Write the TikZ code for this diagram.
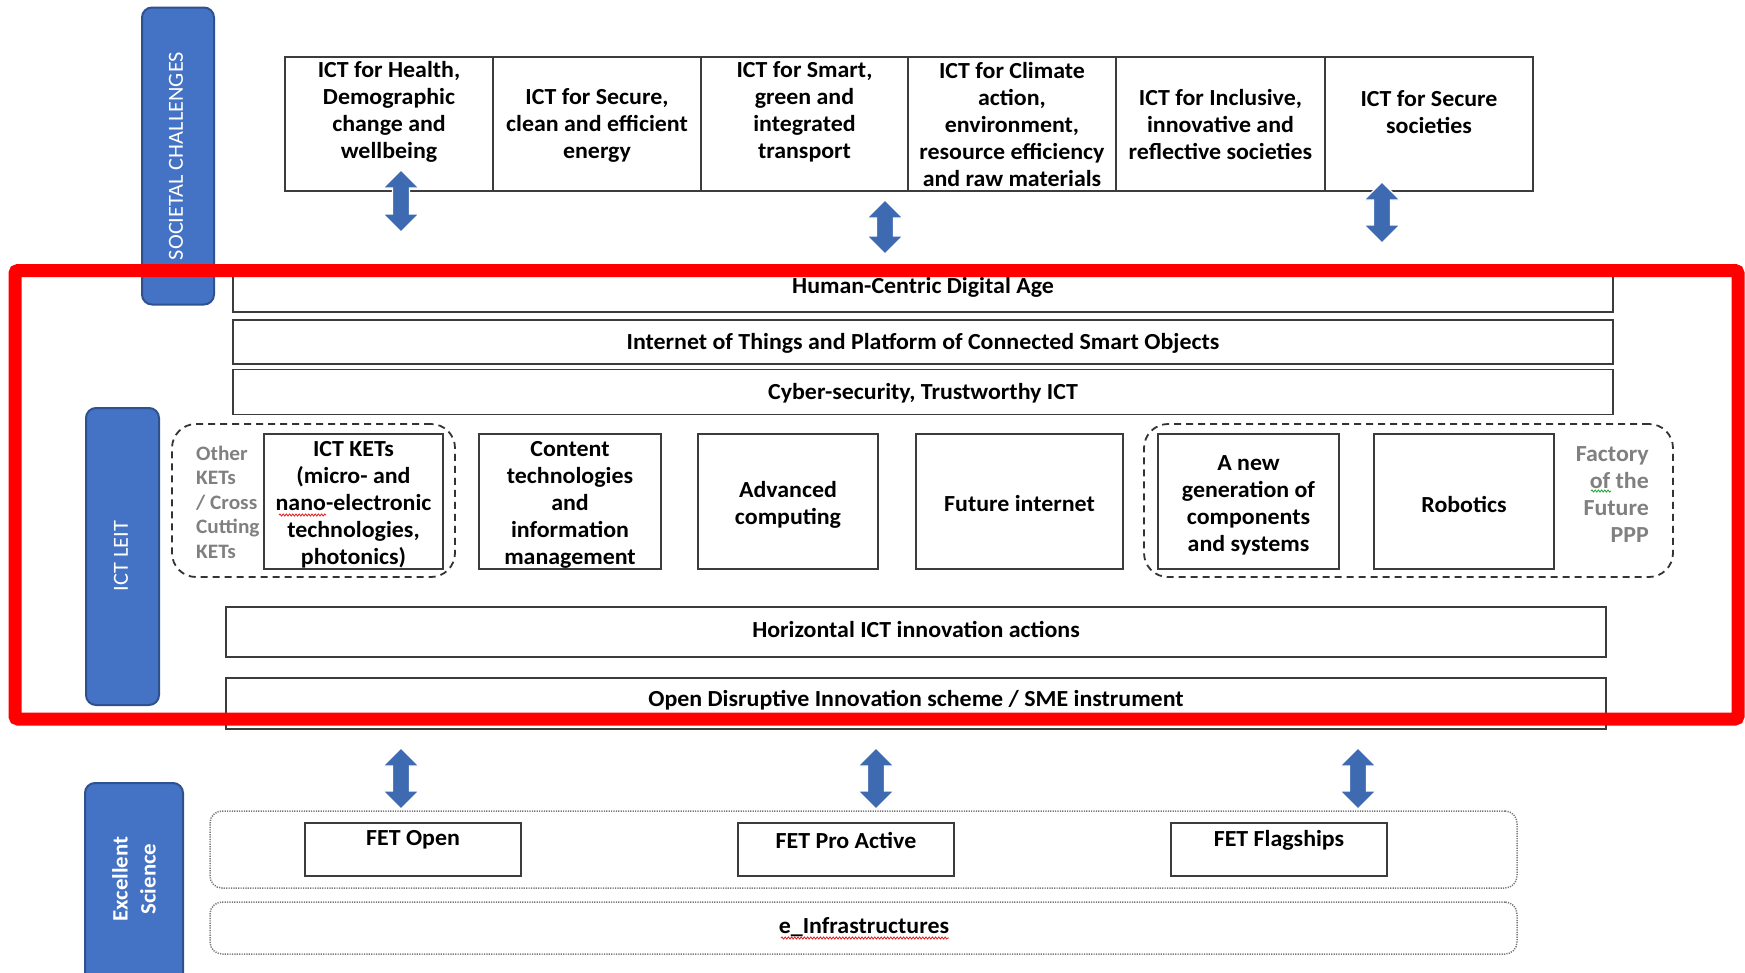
\documentclass[tikz,border=0pt]{standalone}
\usepackage{fontspec}
\setmainfont{Carlito}[FakeStretch=1.04]
\usetikzlibrary{decorations.pathmorphing}
\definecolor{boxline}{RGB}{60,60,60}
\definecolor{bluefill}{RGB}{68,114,196}
\definecolor{blueline}{RGB}{47,82,143}
\definecolor{arrowblue}{RGB}{62,106,178}
\definecolor{graytext}{RGB}{128,128,128}
\definecolor{dotgray}{RGB}{120,120,120}
\definecolor{redframe}{RGB}{255,0,0}
\definecolor{spellred}{RGB}{230,40,40}
\definecolor{spellgreen}{RGB}{40,170,60}
\newcommand{\mainfs}{\fontsize{23}{27}\selectfont\bfseries}
\newcommand{\smallfs}{\fontsize{20.5}{24.5}\selectfont\bfseries}
\newcommand{\bluefs}{\fontsize{21.5}{27}\selectfont}
\newcommand{\blkarrow}[4]{%
  \coordinate (#1) at (#2,{(#3+#4)/2});
  \fill[arrowblue, draw=white, line width=1.2]
    (#2,#3) -- ({#2+18},{#3+18}) -- ({#2+8.5},{#3+18}) -- ({#2+8.5},{#4-18})
    -- ({#2+18},{#4-18}) -- (#2,#4) -- ({#2-18},{#4-18}) -- ({#2-8.5},{#4-18})
    -- ({#2-8.5},{#3+18}) -- ({#2-18},{#3+18}) -- cycle;}
\tikzset{
  box/.style={draw=boxline, line width=1.6, inner sep=0, fill=white},
  txt/.style={font=\mainfs, align=center, inner sep=0, text=black},
  bluebox/.style={fill=bluefill, draw=blueline, line width=2, rounded corners=10, inner sep=0},
  bluetxt/.style={font=\bluefs, text=white, align=center, inner sep=0, rotate=90},
  grp/.style={draw=black!80, dash pattern=on 7 off 5, line width=1.8, rounded corners=24, inner sep=0},
  dotbox/.style={draw=dotgray, dash pattern=on 1.2 off 1.2, line width=1.5, rounded corners=12, inner sep=0},
  graytxt/.style={font=\smallfs, text=graytext, inner sep=0},
  squiggle/.style={line width=0.9, decorate, decoration={snake, amplitude=1, segment length=3.2}},
}
\begin{document}
\begin{tikzpicture}[x=1pt,y=-1pt]
\useasboundingbox (0,0) rectangle (1745,972);
\clip (0,0) rectangle (1745,972);
\fill[white] (0,0) rectangle (1745,972);

% blue side labels
\node[bluebox, minimum width=72, minimum height=297] (soc) at (178,156) {};
\node[bluetxt] (soct) at (176,156) {SOCIETAL CHALLENGES};
\node[bluebox, minimum width=73, minimum height=297] (leit) at (122.5,556.5) {};
\node[bluetxt] (leitt) at (121,556) {ICT LEIT};
\node[bluebox, minimum width=98, minimum height=220] (exc) at (134,893) {};
\node[bluetxt, font=\fontsize{22}{28}\selectfont\bfseries] (exct) at (134,879) {Excellent\\Science};

% societal challenges row
\node[box, minimum width=208, minimum height=134] (c1) at (389,124) {};
\node[box, minimum width=208, minimum height=134] (c2) at (597,124) {};
\node[box, minimum width=207, minimum height=134] (c3) at (804.5,124) {};
\node[box, minimum width=208, minimum height=134] (c4) at (1012,124) {};
\node[box, minimum width=209, minimum height=134] (c5) at (1220.5,124) {};
\node[box, minimum width=208, minimum height=134] (c6) at (1429,124) {};
\node[txt] (c1t) at (389,112) {ICT for Health,\\Demographic\\change and\\wellbeing};
\node[txt] (c2t) at (597,125) {ICT for Secure,\\clean and efficient\\energy};
\node[txt] (c3t) at (804.5,112) {ICT for Smart,\\green and\\integrated\\transport};
\node[txt] (c4t) at (1012,125) {ICT for Climate\\action,\\environment,\\resource efficiency\\and raw materials};
\node[txt] (c5t) at (1220.5,125) {ICT for Inclusive,\\innovative and\\reflective societies};
\node[txt] (c6t) at (1429,112) {ICT for Secure\\societies};

% horizontal lanes
\node[box, minimum width=1380, minimum height=44] (hc) at (923,290) {};
\node[txt] (hct) at (923,287) {Human-Centric Digital Age};
\node[box, minimum width=1380, minimum height=44] (iot) at (923,342) {};
\node[txt] (iott) at (923,343) {Internet of Things and Platform of Connected Smart Objects};
\node[box, minimum width=1380, minimum height=45] (cyb) at (923,392) {};
\node[txt] (cybt) at (923,393) {Cyber-security, Trustworthy ICT};

% dashed groups
\node[grp, minimum width=283, minimum height=153] (g1) at (313.5,500.5) {};
\node[grp, minimum width=529, minimum height=153] (g2) at (1408.5,500.5) {};

% middle boxes
\node[box, minimum width=179, minimum height=135] (kets) at (353.5,501.5) {};
\node[txt] (ketst) at (353.5,505) {ICT KETs\\(micro- and\\nano-electronic\\technologies,\\photonics)};
\node[box, minimum width=182, minimum height=135] (cont) at (570,501.5) {};
\node[txt] (contt) at (570,505) {Content\\technologies\\and\\information\\management};
\node[box, minimum width=180, minimum height=135] (adv) at (788,501.5) {};
\node[txt] (advt) at (788,505) {Advanced\\computing};
\node[box, minimum width=207, minimum height=135] (fut) at (1019.5,501.5) {};
\node[txt] (futt) at (1019.5,504) {Future internet};
\node[box, minimum width=181, minimum height=135] (gen) at (1248.5,501.5) {};
\node[txt] (gent) at (1248.5,505) {A new\\generation of\\components\\and systems};
\node[box, minimum width=180, minimum height=135] (rob) at (1464,501.5) {};
\node[txt] (robt) at (1464,504) {Robotics};
\node[graytxt, align=left, anchor=west] (other) at (196,502) {Other\\KETs\\/ Cross\\Cutting\\KETs};
\node[graytxt, font=\mainfs, align=right, anchor=east] (fof) at (1649,495) {Factory\\of the\\Future\\PPP};

% lower lanes
\node[box, minimum width=1380, minimum height=50] (hor) at (916,632) {};
\node[txt] (hort) at (916,629) {Horizontal ICT innovation actions};
\node[box, minimum width=1380, minimum height=51] (odi) at (916,703.5) {};
\node[txt] (odit) at (916,700) {Open Disruptive Innovation scheme / SME instrument};

% excellent science
\node[dotbox, minimum width=1307, minimum height=77] (fet) at (863.5,849.5) {};
\node[dotbox, minimum width=1307, minimum height=52] (einf) at (863.5,928) {};
\node[box, minimum width=216, minimum height=53] (feto) at (413,849.5) {};
\node[txt] (fetot) at (413,840) {FET Open};
\node[box, minimum width=216, minimum height=53] (fetp) at (846,849.5) {};
\node[txt] (fetpt) at (846,840) {FET Pro Active};
\node[box, minimum width=216, minimum height=53] (fetf) at (1279,849.5) {};
\node[txt] (fetft) at (1279,840) {FET Flagships};
\node[txt] (einft) at (864,927) {e\_Infrastructures};

% spell-check marks
\draw[spellred, squiggle] (279,515) -- (326,515);
\draw[spellgreen, squiggle] (1591,491) -- (1611,491);
\draw[spellred, squiggle] (781,938) -- (949,938);

% block arrows
\blkarrow{a1}{401}{170}{232}
\blkarrow{a2}{885}{200}{254}
\blkarrow{a3}{1382}{182}{243}
\blkarrow{b1}{401}{748}{809}
\blkarrow{b2}{876}{748}{809}
\blkarrow{b3}{1358}{748}{809}

% red frame
\draw[redframe, line width=13, rounded corners=3] (15,270.5) rectangle (1738,719);
\end{tikzpicture}
\end{document}
